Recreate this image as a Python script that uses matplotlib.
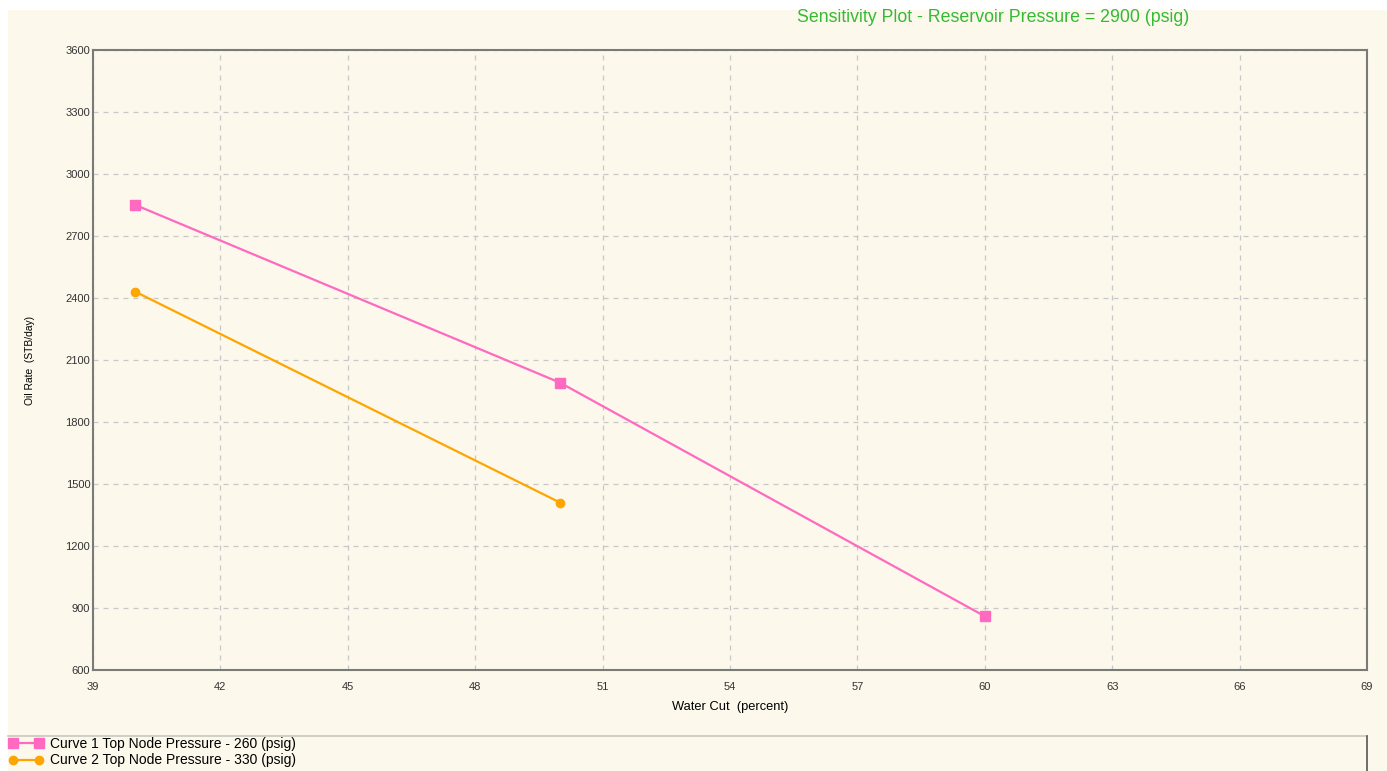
import matplotlib
matplotlib.use("Agg")
import matplotlib.pyplot as plt
from matplotlib.patches import Rectangle
from matplotlib.lines import Line2D

plt.rcParams['font.family'] = ['Liberation Sans', 'DejaVu Sans']

water_cut_1 = [40, 50, 60]
oil_rate_1 = [2850, 1990, 860]
water_cut_2 = [40, 50]
oil_rate_2 = [2430, 1410]
x_ticks = [39, 42, 45, 48, 51, 54, 57, 60, 63, 66, 69]
y_ticks = [600, 900, 1200, 1500, 1800, 2100, 2400, 2700, 3000, 3300, 3600]
label_1 = "Curve 1 Top Node Pressure - 260 (psig)"
label_2 = "Curve 2 Top Node Pressure - 330 (psig)"
title = "Sensitivity Plot - Reservoir Pressure = 2900 (psig)"

W, H = 1387, 771
bg = '#fdf8ec'
fig = plt.figure(figsize=(W / 100, H / 100), dpi=100, facecolor='white')
fig.add_artist(Rectangle((8 / W, 0), 1 - 8 / W, 1 - 10 / H, transform=fig.transFigure,
                         facecolor=bg, edgecolor='none', zorder=-10))

left, right, top, bottom = 93, 1367, 50, 670
ax = fig.add_axes([left / W, 1 - bottom / H, (right - left) / W, (bottom - top) / H])
ax.set_facecolor(bg)

ax.plot(water_cut_1, oil_rate_1, color='#ff69c0', lw=1.6, marker='s', ms=7, label=label_1, zorder=3)
ax.plot(water_cut_2, oil_rate_2, color='#ffa500', lw=1.6, marker='o', ms=6, label=label_2, zorder=3)

ax.set_xlim(39, 69)
ax.set_ylim(600, 3600)
ax.set_xticks(x_ticks)
ax.set_yticks(y_ticks)
ax.tick_params(axis='both', labelsize=8, length=0, pad=2, colors='#333333')
ax.tick_params(axis='x', pad=9)
ax.grid(True, color='#c8c8c8', linestyle=(0, (4, 4)), linewidth=0.9)
for s in ax.spines.values():
    s.set_color('#7a7a78')
    s.set_linewidth(1.5)

ax.set_xlabel("Water Cut  (percent)", fontsize=9.3)
ax.xaxis.set_label_coords((730 - left) / (right - left), -(707 - bottom) / (bottom - top))
ax.xaxis.label.set_va('center')
ax.set_ylabel("Oil Rate  (STB/day)", fontsize=7.4)
ax.yaxis.set_label_coords((30 - left) / (right - left), (bottom - 360) / (bottom - top))
ax.yaxis.label.set_va('center')

fig.text(993 / W, 1 - 18 / H, title, color='#33bb33', fontsize=12.8, ha='center', va='center')

# legend box lines
fig.add_artist(Line2D([8 / W, 1367 / W], [1 - 736 / H, 1 - 736 / H], transform=fig.transFigure,
                      color='#c8c8c0', lw=1.2))
fig.add_artist(Line2D([1367 / W, 1367 / W], [1 - 736 / H, 0], transform=fig.transFigure,
                      color='#555555', lw=1.2))

handles, labels = ax.get_legend_handles_labels()
fig.legend(handles, labels, loc='upper left', bbox_to_anchor=(8 / W, 1 - 736 / H),
           frameon=False, fontsize=10, numpoints=2, handlelength=2.5, handletextpad=0.45,
           labelspacing=0.2, borderpad=0.05, borderaxespad=0)

fig.savefig("out.png", dpi=100, facecolor='white')
